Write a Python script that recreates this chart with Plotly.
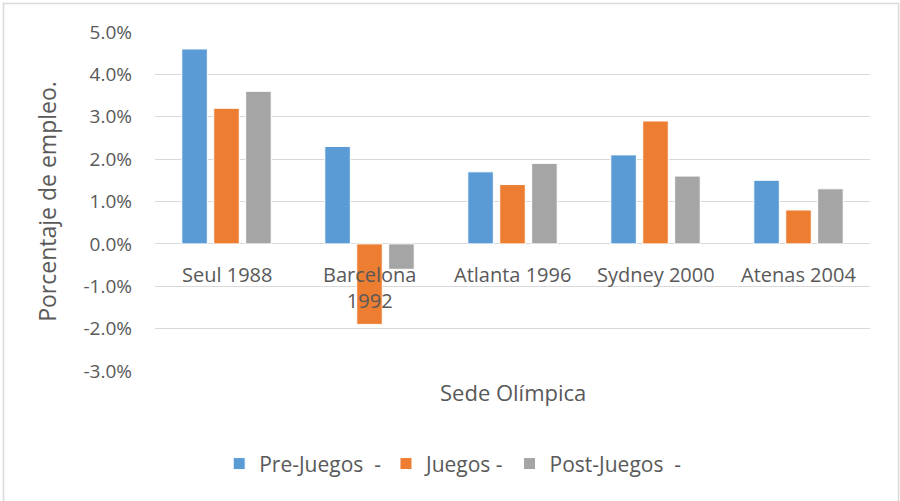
import plotly.graph_objects as go

categories = ["Seul 1988", "Barcelona<br>1992", "Atlanta 1996", "Sydney 2000", "Atenas 2004"]
pre_juegos = [4.6, 2.3, 1.7, 2.1, 1.5]
juegos = [3.2, -1.9, 1.4, 2.9, 0.8]
post_juegos = [3.6, -0.6, 1.9, 1.6, 1.3]
series_names = ["Pre-Juegos\u00a0\u00a0-", "Juegos -", "Post-Juegos\u00a0\u00a0-"]
tick_vals = [-3, -2, -1, 0, 1, 2, 3, 4, 5]
tick_labels = ["-3.0%", "-2.0%", "-1.0%", "0.0%", "1.0%", "2.0%", "3.0%", "4.0%", "5.0%"]

colors = ["#5B9BD5", "#ED7D31", "#A5A5A5"]
FONT = "Open Sans"
TXT = "#595959"

fig = go.Figure()
for name, vals, col in zip(series_names, [pre_juegos, juegos, post_juegos], colors):
    fig.add_trace(go.Bar(
        x=categories, y=vals, name=name,
        marker=dict(color=col, line=dict(color="white", width=1)),
    ))

for cat in categories:
    fig.add_annotation(
        x=cat, y=0, xref="x", yref="y", text=cat, showarrow=False,
        yanchor="top", yshift=-15, font=dict(family=FONT, size=20, color=TXT),
    )

fig.add_annotation(
    x=0.5, y=-0.062, xref="paper", yref="paper", text="Sede Olímpica",
    showarrow=False, yanchor="middle", font=dict(family=FONT, size=22, color=TXT),
)

# chart border
fig.add_shape(type="rect", xref="paper", yref="paper",
              x0=-0.2119, x1=1.0399, y0=-0.6, y1=1.084,
              line=dict(color="#D9D9D9", width=1.5))

fig.update_layout(
    width=900, height=501,
    margin=dict(l=155, r=30, t=32, b=130),
    paper_bgcolor="white", plot_bgcolor="white",
    barmode="group", bargap=0.33, bargroupgap=0.2,
    font=dict(family=FONT, color=TXT, size=20),
    showlegend=True,
    legend=dict(
        orientation="h", xref="container", yref="container",
        x=0.503, xanchor="center", y=0.074, yanchor="middle",
        font=dict(family=FONT, size=21, color=TXT),
        itemwidth=30, traceorder="normal",
    ),
    xaxis=dict(showticklabels=False, showgrid=False, zeroline=False, showline=False),
    yaxis=dict(
        range=[-3, 5], tickvals=tick_vals, ticktext=tick_labels,
        showgrid=True, gridcolor="#D9D9D9", gridwidth=1,
        zeroline=True, zerolinecolor="#D9D9D9", zerolinewidth=1,
        ticklabelstandoff=22,
        tickfont=dict(family=FONT, size=19, color=TXT),
        title=dict(text="Porcentaje de empleo.", standoff=20,
                   font=dict(family=FONT, size=23, color=TXT)),
    ),
)

fig.write_html("out.html", config={"displayModeBar": False},
               post_script="document.body.style.margin='0';")
